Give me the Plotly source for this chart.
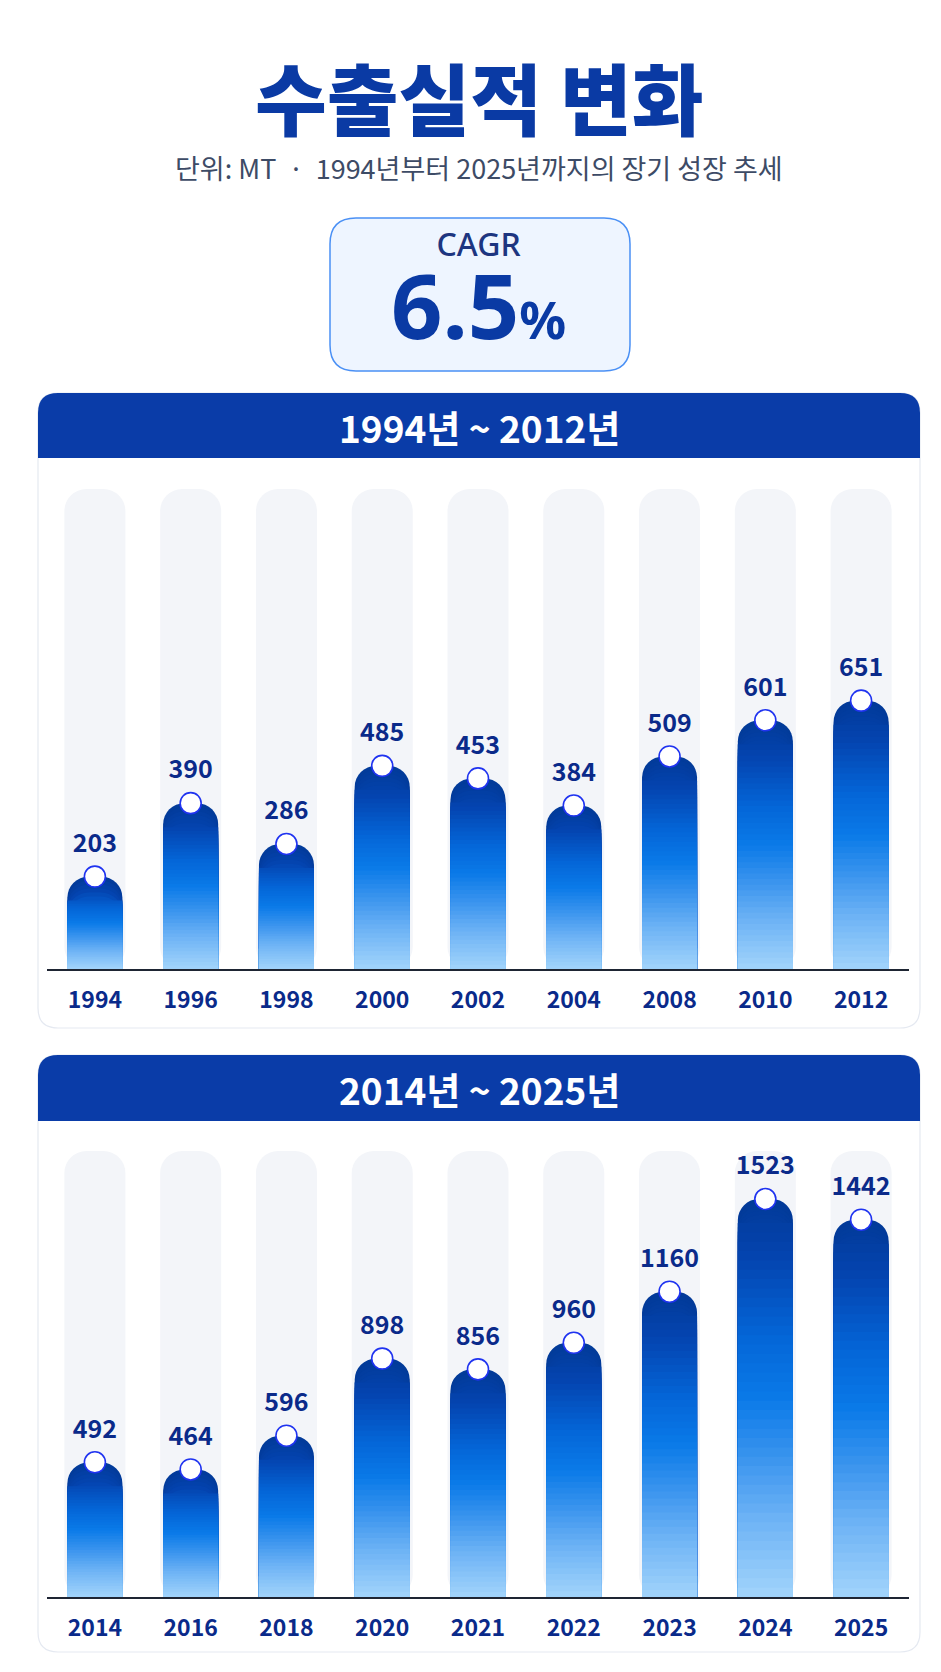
import plotly.graph_objects as go

W, H = 941, 1672

# ---------------- data ----------------
YEARS_A = ["1994", "1996", "1998", "2000", "2002", "2004", "2008", "2010", "2012"]
VALUES_A = [203, 390, 286, 485, 453, 384, 509, 601, 651]
YEARS_B = ["2014", "2016", "2018", "2020", "2021", "2022", "2023", "2024", "2025"]
VALUES_B = [492, 464, 596, 898, 856, 960, 1160, 1523, 1442]
TITLE = "수출실적 변화"
SUBTITLE = "단위: MT  ·  1994년부터 2025년까지의 장기 성장 추세"
CAGR_LABEL = "CAGR"
CAGR_VALUE = "6.5"
PANEL_TITLES = ["1994년 ~ 2012년", "2014년 ~ 2025년"]

# ---------------- style ----------------
FONT = "Noto Sans CJK KR"
LATIN = "Noto Sans"
NAVY = "#0a2a8a"
TITLE_BLUE = "#0a3aa4"
HEADER_BLUE = "#0a3ca8"
BG_BAR = "#f3f5f9"
GRAD = [(0.0, "#023a98"), (0.15, "#0444b0"), (0.35, "#0466d8"), (0.5, "#0a7ae8"),
        (0.65, "#3a94ee"), (0.8, "#6cb2f5"), (1.0, "#a2d4fb")]
N_LAYERS = 40
N_CAP = 6
BAR_W = 0.574
BG_W = 0.637
CAP_PX = 24
RADIUS = 21

# panel geometry (px, y downward)
PANELS = [
    dict(years=YEARS_A, values=VALUES_A, title=PANEL_TITLES[0],
         top=481, bottom=961, floor=-32.3, ymax=1190,
         box_top=385, head_bot=450, box_bot=1020, xa="x", ya="y"),
    dict(years=YEARS_B, values=VALUES_B, title=PANEL_TITLES[1],
         top=1143, bottom=1589, floor=-35.6, ymax=1711,
         box_top=1047, head_bot=1113, box_bot=1644, xa="x2", ya="y2"),
]
PLOT_X0, PLOT_X1 = 39, 901
BOX_X0, BOX_X1 = 30, 912


def hex2rgb(h):
    h = h.lstrip("#")
    return tuple(int(h[i:i + 2], 16) for i in (0, 2, 4))


def grad_color(t):
    t = min(max(t, 0.0), 1.0)
    for (t0, c0), (t1, c1) in zip(GRAD[:-1], GRAD[1:]):
        if t <= t1:
            f = (t - t0) / (t1 - t0) if t1 > t0 else 0
            a, b = hex2rgb(c0), hex2rgb(c1)
            return "rgb(%d,%d,%d)" % tuple(round(a[i] + (b[i] - a[i]) * f) for i in range(3))
    return GRAD[-1][1]


def P(x, y):
    return f"{x / W:.5f},{1 - y / H:.5f}"


def rrect(x0, y0, x1, y1, rtl, rtr, rbr, rbl):
    return (f"M {P(x0 + rtl, y0)} L {P(x1 - rtr, y0)} Q {P(x1, y0)} {P(x1, y0 + rtr)} "
            f"L {P(x1, y1 - rbr)} Q {P(x1, y1)} {P(x1 - rbr, y1)} "
            f"L {P(x0 + rbl, y1)} Q {P(x0, y1)} {P(x0, y1 - rbl)} "
            f"L {P(x0, y0 + rtl)} Q {P(x0, y0)} {P(x0 + rtl, y0)} Z")


fig = go.Figure()
shapes = []
annotations = []

for p in PANELS:
    xa, ya = p["xa"], p["ya"]
    fl, ymax = p["floor"], p["ymax"]
    slope = (p["bottom"] - p["top"]) / (ymax - fl)  # px per unit
    cap_u = CAP_PX / slope
    years, vals = p["years"], p["values"]
    full = [v - fl for v in vals]

    # background track bars
    fig.add_trace(go.Bar(x=years, y=[ymax - fl] * len(years), base=fl, width=BG_W,
                         marker=dict(color=BG_BAR, cornerradius=22, line=dict(width=0)),
                         hoverinfo="skip", showlegend=False, xaxis=xa, yaxis=ya))
    # rounded top layers (cap region)
    for j in range(N_CAP):
        heights = [h - j * cap_u / N_CAP for h in full]
        cols = [grad_color((j + 0.5) * (cap_u / N_CAP) / h) for h in full]
        fig.add_trace(go.Bar(x=years, y=heights, base=fl, width=BAR_W,
                             marker=dict(color=cols, cornerradius=RADIUS, line=dict(width=0)),
                             hoverinfo="skip", showlegend=False, xaxis=xa, yaxis=ya))
    # square gradient layers below the cap
    for k in range(N_LAYERS):
        frac = 1 - k / N_LAYERS
        mid = 1 - (k + 0.5) / N_LAYERS
        heights = [(h - cap_u) * frac for h in full]
        cols = [grad_color(1 - ((h - cap_u) * mid) / h) for h in full]
        fig.add_trace(go.Bar(x=years, y=heights, base=fl, width=BAR_W,
                             marker=dict(color=cols, line=dict(width=0)),
                             hoverinfo="skip", showlegend=False, xaxis=xa, yaxis=ya))
    # markers
    fig.add_trace(go.Scatter(x=years, y=vals, mode="markers", cliponaxis=False,
                             marker=dict(size=21, color="white", line=dict(width=1.6, color="#1f33f0")),
                             hoverinfo="skip", showlegend=False, xaxis=xa, yaxis=ya))
    # value labels
    fig.add_trace(go.Scatter(x=years, y=vals, mode="markers+text", cliponaxis=False,
                             text=[str(v) for v in vals], textposition="top center",
                             textfont=dict(family=FONT, size=25, color=NAVY, weight="bold"),
                             marker=dict(size=28, opacity=0),
                             hoverinfo="skip", showlegend=False, xaxis=xa, yaxis=ya))

    # panel frame + header
    shapes.append(dict(type="path", xref="paper", yref="paper", layer="below",
                       path=rrect(BOX_X0, p["box_top"], BOX_X1, p["box_bot"], 20, 20, 20, 20),
                       fillcolor="white", line=dict(color="#e5e9f1", width=1.2)))
    shapes.append(dict(type="path", xref="paper", yref="paper", layer="below",
                       path=rrect(BOX_X0, p["box_top"], BOX_X1, p["head_bot"], 20, 20, 0, 0),
                       fillcolor=HEADER_BLUE, line=dict(width=0)))
    annotations.append(dict(xref="paper", yref="paper", x=(BOX_X0 + BOX_X1) / 2 / W,
                            y=1 - ((p["box_top"] + p["head_bot"]) / 2 + 1) / H,
                            text=p["title"], showarrow=False, xanchor="center", yanchor="middle",
                            font=dict(family=FONT, size=37, color="white", weight="bold")))

# CAGR box
shapes.append(dict(type="path", xref="paper", yref="paper", layer="below",
                   path=rrect(322, 210, 622, 363, 26, 26, 26, 26),
                   fillcolor="#eef5ff", line=dict(color="#4a90f5", width=1.5)))

cagr_text = (CAGR_LABEL + "<br><br>"
             + "<span style='font-size:90px;color:" + TITLE_BLUE + "'><b>" + CAGR_VALUE + "</b></span>"
             + "<span style='font-size:52px;color:" + TITLE_BLUE + "'><b>%</b></span>")

annotations += [
    dict(xref="paper", yref="paper", x=0.5, y=1 - 88 / H, text=TITLE, showarrow=False,
         xanchor="center", yanchor="middle",
         font=dict(family=FONT, size=78, color=TITLE_BLUE, weight=900)),
    dict(xref="paper", yref="paper", x=0.5, y=1 - 159 / H, text=SUBTITLE, showarrow=False,
         xanchor="center", yanchor="middle",
         font=dict(family=FONT, size=27, color="#3d4b66")),
    dict(xref="paper", yref="paper", x=0.5, y=1 - 286 / H, text=cagr_text, showarrow=False,
         xanchor="center", yanchor="middle", align="center",
         font=dict(family=LATIN, size=32, color="#1d3580", weight=500)),
]

axis_x = dict(type="category", showgrid=False, zeroline=False, ticks="", showline=True,
              linecolor="#1e2533", linewidth=2, fixedrange=True, ticklabelstandoff=9,
              range=[-0.5, 8.5], autorange=False,
              tickfont=dict(family=FONT, size=23, color=NAVY, weight="bold"))
axis_y = dict(visible=False, showgrid=False, zeroline=False, fixedrange=True)

p1, p2 = PANELS
fig.update_layout(
    width=W, height=H, margin=dict(l=0, r=0, t=0, b=0),
    paper_bgcolor="white", plot_bgcolor="rgba(0,0,0,0)",
    barmode="overlay", showlegend=False,
    xaxis=dict(axis_x, domain=[PLOT_X0 / W, PLOT_X1 / W], anchor="y"),
    yaxis=dict(axis_y, domain=[1 - p1["bottom"] / H, 1 - p1["top"] / H],
               range=[p1["floor"], p1["ymax"]], anchor="x"),
    xaxis2=dict(axis_x, domain=[PLOT_X0 / W, PLOT_X1 / W], anchor="y2"),
    yaxis2=dict(axis_y, domain=[1 - p2["bottom"] / H, 1 - p2["top"] / H],
                range=[p2["floor"], p2["ymax"]], anchor="x2"),
    shapes=shapes, annotations=annotations,
)

fig.write_html("out.html", config={"displayModeBar": False})
